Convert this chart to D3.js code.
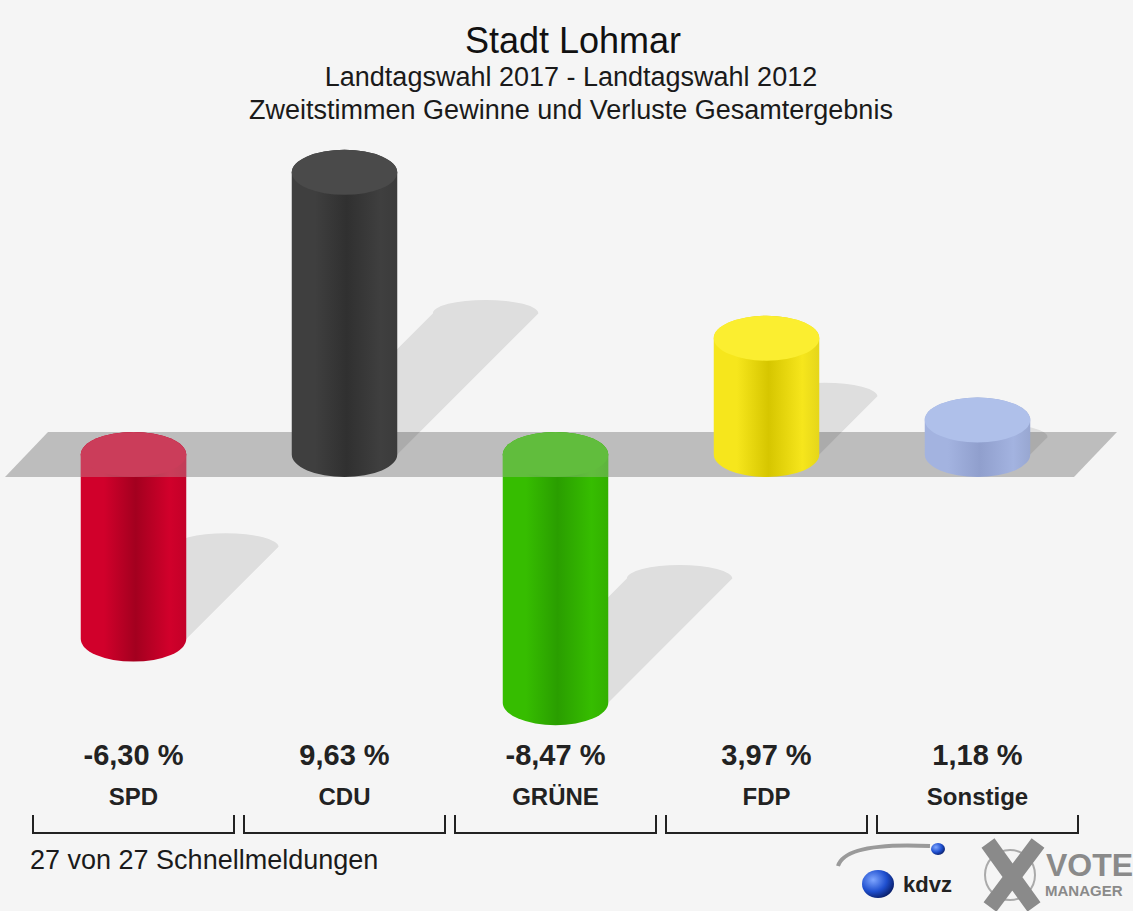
<!DOCTYPE html>
<html>
<head>
<meta charset="utf-8">
<title>Stadt Lohmar</title>
<script src="https://d3js.org/d3.v7.min.js"></script>
<style>
  body { margin: 0; background: #f5f5f5; }
  svg { display: block; }
  text { font-family: "Liberation Sans", Arial, sans-serif; }
</style>
</head>
<body>
<div id="chart"></div>
<script>

// Gewinne und Verluste (Prozentpunkte) 2017 vs 2012
var parties = ["SPD", "CDU", "GRÜNE", "FDP", "Sonstige"];
var changes = [-6.30, 9.63, -8.47, 3.97, 1.18];
var baseColors = ["#d1002b", "#3f3f3f", "#36bd00", "#f6e61c", "#a3b3e0"];
var darkColors = ["#a3001f", "#303030", "#2a9e00", "#d6c600", "#909fcd"];
var topColors  = ["#d1002b", "#4a4a4a", "#36bd00", "#fbee30", "#afc0ea"];

var titleLines = ["Stadt Lohmar", "Landtagswahl 2017 - Landtagswahl 2012",
                  "Zweitstimmen Gewinne und Verluste Gesamtergebnis"];
var footnote = "27 von 27 Schnellmeldungen";

var W = 1133, H = 911;

var svg = d3.select("#chart").append("svg")
    .attr("width", W)
    .attr("height", H);

svg.append("rect").attr("width", W).attr("height", H).attr("fill", "#f5f5f5");

// scales
var x = d3.scaleBand()
    .domain(parties)
    .range([28, 1083])
    .paddingInner(0);

var y = d3.scaleLinear()
    .domain([-10, 10])
    .range([454.5 + 293, 454.5 - 293]);

var barW = x.bandwidth() * 0.5;
var rx = barW / 2, ry = 22.5;
var k = 0.5; // shadow shear

var rows = parties.map(function(p, i) {
  return {party: p, value: changes[i], base: baseColors[i], dark: darkColors[i], top: topColors[i], i: i};
});

// gradients
var defs = svg.append("defs");
rows.forEach(function(d) {
  var g = defs.append("linearGradient")
      .attr("id", "grad" + d.i)
      .attr("x1", "0%").attr("x2", "100%").attr("y1", "0%").attr("y2", "0%");
  g.append("stop").attr("offset", "0%").attr("stop-color", d.base);
  g.append("stop").attr("offset", "22%").attr("stop-color", d.base);
  g.append("stop").attr("offset", "52%").attr("stop-color", d.dark);
  g.append("stop").attr("offset", "84%").attr("stop-color", d.base);
  g.append("stop").attr("offset", "100%").attr("stop-color", d3.color(d.base).darker(0.2));
});

// band (zero plane)
var bandTop = y(0) - ry, bandBot = y(0) + ry;
var bandPts = [[48, bandTop], [1117, bandTop], [1074, bandBot], [5, bandBot]];
defs.append("clipPath").attr("id", "bandClip")
  .append("polygon").attr("points", bandPts.map(function(p) { return p.join(","); }).join(" "));

svg.append("polygon")
    .attr("points", bandPts.map(function(p) { return p.join(","); }).join(" "))
    .attr("fill", "#bdbdbd");

function geom(d) {
  var cx = x(d.party) + x.bandwidth() / 2;
  var yt = Math.min(y(d.value), y(0));
  var yb = Math.max(y(d.value), y(0));
  return {cx: cx, xL: cx - rx, xR: cx + rx, yt: yt, yb: yb};
}

function bodyPath(g) {
  return "M" + g.xL + "," + g.yt +
    "L" + g.xL + "," + g.yb +
    "A" + rx + "," + ry + " 0 0 0 " + g.xR + "," + g.yb +
    "L" + g.xR + "," + g.yt +
    "A" + rx + "," + ry + " 0 0 0 " + g.xL + "," + g.yt + "Z";
}

// shadows
svg.append("g").selectAll("path")
  .data(rows)
  .enter().append("path")
    .attr("d", function(d) {
      var g = geom(d);
      var s = k * (g.yb - g.yt);
      return "M" + g.xL + "," + g.yb +
        "L" + (g.xL + s) + "," + (g.yb - s) +
        "A" + rx + "," + (ry * 0.6) + " 0 0 1 " + (g.xR + s) + "," + (g.yb - s) +
        "L" + g.xR + "," + g.yb + "Z";
    })
    .attr("fill", "rgba(0,0,0,0.095)");

// cylinders
var bars = svg.append("g").selectAll("g")
  .data(rows)
  .enter().append("g");

bars.append("path")
    .attr("d", function(d) { return bodyPath(geom(d)); })
    .attr("fill", function(d) { return "url(#grad" + d.i + ")"; });

bars.append("ellipse")
    .attr("cx", function(d) { return geom(d).cx; })
    .attr("cy", function(d) { return geom(d).yt; })
    .attr("rx", rx)
    .attr("ry", ry)
    .attr("fill", function(d) { return d.top; });

// band seen through on negative bars
svg.append("g").attr("clip-path", "url(#bandClip)")
  .selectAll("path")
  .data(rows.filter(function(d) { return d.value < 0; }))
  .enter().append("path")
    .attr("d", function(d) { return bodyPath(geom(d)); })
    .attr("fill", "#bdbdbd")
    .attr("opacity", 0.32);

// titles
svg.append("text").attr("x", 573).attr("y", 53)
    .attr("text-anchor", "middle").attr("font-size", 36).attr("fill", "#111")
    .text(titleLines[0]);
svg.append("text").attr("x", 571).attr("y", 86)
    .attr("text-anchor", "middle").attr("font-size", 27).attr("fill", "#1a1a1a")
    .text(titleLines[1]);
svg.append("text").attr("x", 571).attr("y", 119)
    .attr("text-anchor", "middle").attr("font-size", 27).attr("fill", "#1a1a1a")
    .text(titleLines[2]);

// value + party labels
var fmt = d3.formatLocale({decimal: ",", thousands: ".", grouping: [3], currency: ["", " €"], minus: "-"}).format(".2f");
svg.append("g").selectAll("text")
  .data(rows)
  .enter().append("text")
    .attr("x", function(d) { return x(d.party) + x.bandwidth() / 2; })
    .attr("y", 765)
    .attr("text-anchor", "middle")
    .attr("font-size", 29)
    .attr("font-weight", "bold")
    .attr("fill", "#222")
    .text(function(d) { return fmt(d.value) + " %"; });

svg.append("g").selectAll("text")
  .data(rows)
  .enter().append("text")
    .attr("x", function(d) { return x(d.party) + x.bandwidth() / 2; })
    .attr("y", 805)
    .attr("text-anchor", "middle")
    .attr("font-size", 24)
    .attr("font-weight", "bold")
    .attr("fill", "#222")
    .text(function(d) { return d.party; });

// brackets
svg.append("g").selectAll("path")
  .data(rows)
  .enter().append("path")
    .attr("d", function(d) {
      var a = x(d.party) + 5, b = x(d.party) + x.bandwidth() - 5;
      return "M" + a + ",815V833H" + b + "V815";
    })
    .attr("fill", "none")
    .attr("stroke", "#222")
    .attr("stroke-width", 2);

svg.append("text").attr("x", 30).attr("y", 869)
    .attr("font-size", 27).attr("fill", "#1a1a1a")
    .text(footnote);

// logos (kdvz / VOTE MANAGER)
var logo = svg.append("g");
var sph = defs.append("radialGradient").attr("id", "sphere")
    .attr("cx", "35%").attr("cy", "35%").attr("r", "70%");
sph.append("stop").attr("offset", "0%").attr("stop-color", "#7fa6ff");
sph.append("stop").attr("offset", "60%").attr("stop-color", "#1f4fcf");
sph.append("stop").attr("offset", "100%").attr("stop-color", "#0a1f6a");
logo.append("path")
    .attr("d", "M838,866 Q845,842 930,846")
    .attr("fill", "none").attr("stroke", "#9a9a9a").attr("stroke-width", 4);
logo.append("ellipse").attr("cx", 878).attr("cy", 884).attr("rx", 16).attr("ry", 14)
    .attr("fill", "url(#sphere)");
logo.append("ellipse").attr("cx", 938).attr("cy", 849).attr("rx", 7).attr("ry", 6)
    .attr("fill", "url(#sphere)");
logo.append("text").attr("x", 903).attr("y", 892)
    .attr("font-size", 22).attr("font-weight", "bold").attr("font-family", "Liberation Serif, serif")
    .attr("fill", "#222").text("kdvz");
logo.append("circle").attr("cx", 1010).attr("cy", 875).attr("r", 25)
    .attr("fill", "none").attr("stroke", "#aaa").attr("stroke-width", 2);
logo.append("path")
    .attr("d", "M988,843L1034,907M1038,843L990,907")
    .attr("stroke", "#8a8a8a").attr("stroke-width", 16).attr("stroke-linecap", "butt");
logo.append("text").attr("x", 1046).attr("y", 876)
    .attr("font-size", 32).attr("font-weight", "bold")
    .attr("fill", "#8a8a8a").text("VOTE");
logo.append("text").attr("x", 1045).attr("y", 896)
    .attr("font-size", 15).attr("font-weight", "bold")
    .attr("fill", "#8a8a8a").text("MANAGER");

</script>
</body>
</html>
